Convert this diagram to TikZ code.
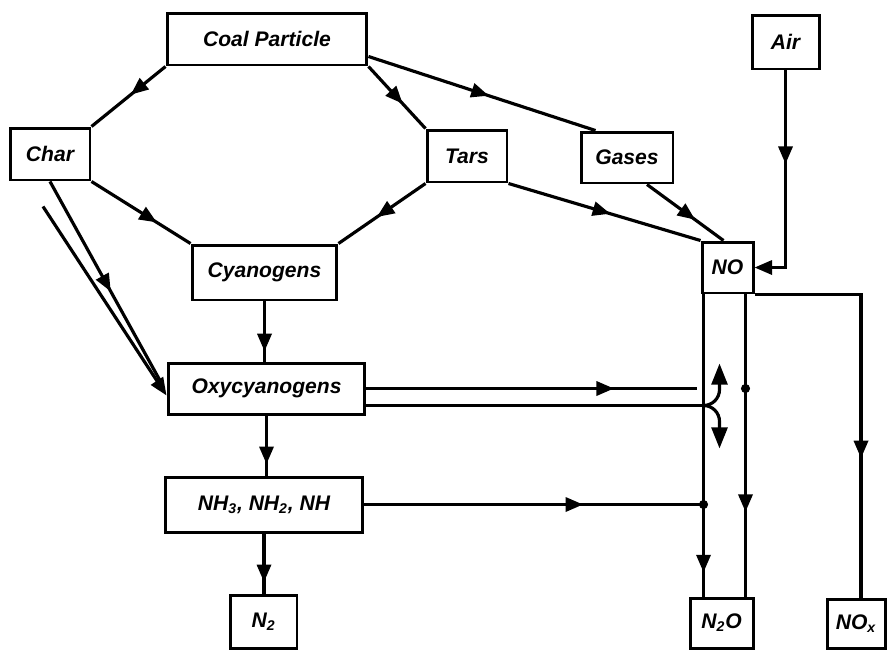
\documentclass[tikz,border=0pt]{standalone}
\usepackage{fontspec}
\setmainfont{Liberation Sans}
\usepackage{tikz}
\usetikzlibrary{arrows.meta,calc,decorations.markings}

\begin{document}
\begin{tikzpicture}[
    x=0.02cm, y=0.02cm,
    box/.style={draw, line width=1.7pt, inner sep=0pt, align=center, font=\fontsize{12}{14}\selectfont\bfseries\itshape},
    link/.style={line width=1.8pt},
    >={Triangle[length=10pt,width=8pt]},
    midarrow/.style={postaction={decorate, decoration={markings, mark=at position #1 with {\arrow{>}}}}},
    bigtip/.style={-{Triangle[length=12pt,width=9pt]}}
]
\useasboundingbox (0,0) rectangle (888,-650);

\node[box, minimum width=4cm, minimum height=1.04cm] (coal) at (267,-39) {Coal Particle};
\node[box, minimum width=1.6cm, minimum height=1.04cm] (char) at (50,-154) {Char};
\node[box, minimum width=1.6cm, minimum height=1.04cm] (tars) at (467,-156) {Tars};
\node[box, minimum width=1.84cm, minimum height=1.02cm] (gases) at (627,-157.5) {Gases};
\node[box, minimum width=2.9cm, minimum height=1.1cm] (cyan) at (264.5,-272.5) {Cyanogens};
\node[box, minimum width=3.94cm, minimum height=1.02cm] (oxy) at (266.5,-388.5) {Oxycyanogens};
\node[box, minimum width=3.96cm, minimum height=1.1cm] (nh) at (264,-504.5) {NH\textsubscript{3}, NH\textsubscript{2}, NH};
\node[box, minimum width=1.34cm, minimum height=1.06cm] (ntwo) at (263.5,-621.5) {N\textsubscript{2}};
\node[box, minimum width=1.34cm, minimum height=1.08cm] (air) at (785.5,-42) {Air};
\node[box, minimum width=1.02cm, minimum height=1.02cm] (no) at (727.5,-267.5) {NO};
\node[box, minimum width=1.26cm, minimum height=1.0cm] (ntwoo) at (721.5,-623) {N\textsubscript{2}O};
\node[box, minimum width=1.16cm, minimum height=0.98cm] (nox) at (856,-623.5) {NO\textsubscript{x}};

\coordinate (nl) at ($(no.south west)+(3,0)$);
\coordinate (nr) at ($(no.south east)+(-9,0)$);
\coordinate (charb) at ($(char.south)+(-7,-25)$);
\coordinate (oxya) at ($(oxy.north west)+(-6,-20)$);
\coordinate (oxyb) at ($(oxy.west)+(0,-7)$);
\coordinate (oxyend) at ($(nl |- oxy.east)+(-7,0)$);
\coordinate (oxylow) at ($(oxy.east)+(0,-17)$);
\coordinate (fork) at (nl |- oxylow);

\draw[link, midarrow=0.47] (coal.south west) -- (char.north east);
\draw[link, midarrow=0.6] (coal.south east) -- (tars.north west);
\draw[link, midarrow=0.53] ($(coal.south east)+(0,10)$) -- ($(gases.north west)+(16,0)$);
\draw[link, midarrow=0.66] (char.south east) -- (cyan.north west);
\draw[link, midarrow=0.56] (tars.south west) -- (cyan.north east);
\draw[link, midarrow=0.53] (tars.south east) -- (no.north west);
\draw[link, midarrow=0.63] ($(gases.south)+(20,0)$) -- ($(no.north)+(-4,0)$);
\draw[link, ->, midarrow=0.41] (air.south) |- (no.east);
\draw[link, midarrow=0.83] (cyan.south) -- (cyan.south |- oxy.north);
\draw[link, midarrow=0.81] (oxy.south) -- (oxy.south |- nh.north);
\draw[link, midarrow=0.81] (nh.south) -- (nh.south |- ntwo.north);
\draw[link, midarrow=0.55] (char.south) -- (oxya);
\draw[link, ->] (charb) -- (oxyb);
\draw[link, midarrow=0.75] (oxy.east) -- (oxyend);
\draw[link] (oxylow) -- (fork);
\draw[link, bigtip] (fork) to[out=0,in=-90] ++(16,16) -- ++(0,26);
\draw[link, bigtip] (fork) to[out=0,in=90] ++(16,-16) -- ++(0,-27);
\draw[link, midarrow=0.645] (nh.east) -- (nl |- nh.east);
\draw[link, midarrow=0.92] (nl) -- (nl |- ntwoo.north);
\draw[link, midarrow=0.72] (nr) -- (nr |- ntwoo.north);
\draw[link, midarrow=0.66] (no.south east) -| ($(nox.north)+(5,0)$);
\fill (nr |- oxy.east) circle[radius=2.6pt];
\fill (nl |- nh.east) circle[radius=2.6pt];
\end{tikzpicture}
\end{document}
